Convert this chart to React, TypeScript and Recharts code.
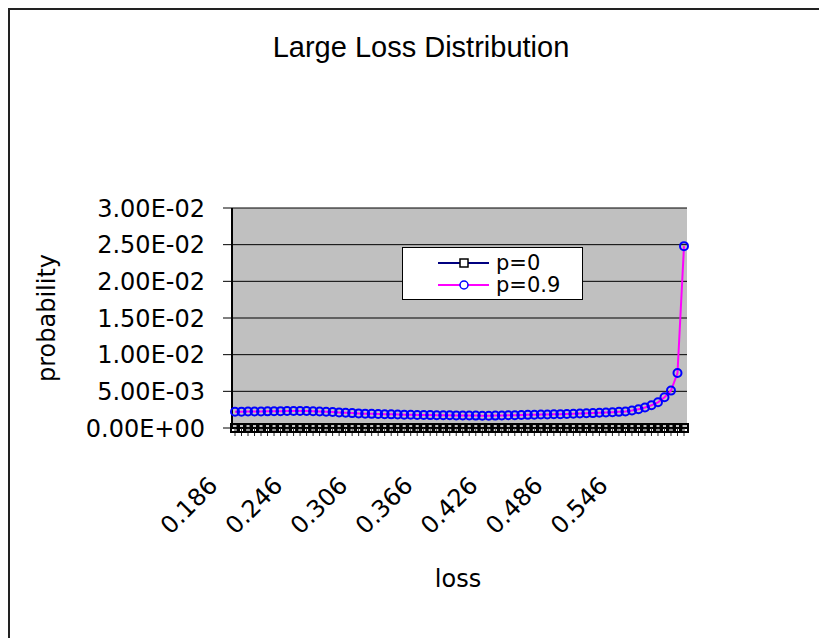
import { LineChart, Line, XAxis, YAxis, CartesianGrid, Legend } from "recharts"

// loss buckets on the category axis
const lossCategories = [
  "0.186", "0.192", "0.198", "0.204", "0.210", "0.216", "0.222", "0.228", "0.234", "0.240",
  "0.246", "0.252", "0.258", "0.264", "0.270", "0.276", "0.282", "0.288", "0.294", "0.300",
  "0.306", "0.312", "0.318", "0.324", "0.330", "0.336", "0.342", "0.348", "0.354", "0.360",
  "0.366", "0.372", "0.378", "0.384", "0.390", "0.396", "0.402", "0.408", "0.414", "0.420",
  "0.426", "0.432", "0.438", "0.444", "0.450", "0.456", "0.462", "0.468", "0.474", "0.480",
  "0.486", "0.492", "0.498", "0.504", "0.510", "0.516", "0.522", "0.528", "0.534", "0.540",
  "0.546", "0.552", "0.558", "0.564", "0.570", "0.576", "0.582", "0.588", "0.594", "0.600",
]

const probP0 = [
  0, 0, 0, 0, 0, 0, 0, 0, 0, 0,
  0, 0, 0, 0, 0, 0, 0, 0, 0, 0,
  0, 0, 0, 0, 0, 0, 0, 0, 0, 0,
  0, 0, 0, 0, 0, 0, 0, 0, 0, 0,
  0, 0, 0, 0, 0, 0, 0, 0, 0, 0,
  0, 0, 0, 0, 0, 0, 0, 0, 0, 0,
  0, 0, 0, 0, 0, 0, 0, 0, 0, 0,
]

const probP09 = [
  0.00222, 0.00223, 0.00224, 0.00225, 0.00226, 0.00227, 0.00229, 0.00230, 0.00231, 0.00232,
  0.00232, 0.00231, 0.00229, 0.00226, 0.00222, 0.00218, 0.00213, 0.00208, 0.00203, 0.00199,
  0.00196, 0.00193, 0.00190, 0.00188, 0.00186, 0.00184, 0.00182, 0.00180, 0.00178, 0.00177,
  0.00176, 0.00175, 0.00174, 0.00173, 0.00172, 0.00171, 0.00170, 0.00169, 0.00168, 0.00168,
  0.00169, 0.00171, 0.00173, 0.00175, 0.00177, 0.00179, 0.00181, 0.00183, 0.00185, 0.00187,
  0.00189, 0.00191, 0.00194, 0.00197, 0.00200, 0.00203, 0.00207, 0.00211, 0.00215, 0.00220,
  0.00226, 0.00238, 0.00256, 0.00280, 0.00310, 0.00350, 0.00420, 0.00510, 0.00750, 0.02480,
]

const yTicks = [0, 0.005, 0.01, 0.015, 0.02, 0.025, 0.03]

const P0_LINE = "#000080"
const P09_LINE = "#FF00FF"
const P09_MARKER = "#0000FF"

const data = lossCategories.map((loss, i) => ({ loss, p0: probP0[i], p09: probP09[i] }))

const FONT = "'DejaVu Sans', Verdana, sans-serif"

// Excel style scientific labels: 3.00E-02
const sci = (v: number) => {
  if (v === 0) return "0.00E+00"
  const e = Math.floor(Math.log10(Math.abs(v)) + 1e-9)
  const m = v / Math.pow(10, e)
  const sign = e < 0 ? "-" : "+"
  return `${m.toFixed(2)}E${sign}${String(Math.abs(e)).padStart(2, "0")}`
}

// only every tenth bucket gets a rotated label
const LossTick = (props: any) => {
  const { x, y, payload } = props
  if (payload.index % 10 !== 0) return null
  const tx = x - 16
  const ty = y + 49
  return (
    <text x={tx} y={ty} transform={`rotate(-45 ${tx} ${ty})`} textAnchor="end"
      fontSize={24} fontFamily={FONT} fill="#000">
      {payload.value}
    </text>
  )
}

const SquareDot = (props: any) => {
  const { cx, cy, index } = props
  if (cx == null || cy == null) return <g key={`sq-${index}`} />
  return (
    <rect key={`sq-${index}`} x={cx - 4} y={cy - 4} width={8} height={8}
      fill="none" stroke="#000" strokeWidth={2} />
  )
}

const LegendBox = () => (
  <div style={{
    width: 181, height: 53, boxSizing: "border-box", background: "#fff",
    border: "1px solid #000", fontFamily: FONT, fontSize: 21, padding: "4px 0 0 35px",
  }}>
    {[
      { name: "p=0", line: P0_LINE, square: true },
      { name: "p=0.9", line: P09_LINE, square: false },
    ].map((s) => (
      <div key={s.name} style={{ display: "flex", alignItems: "center", height: 22 }}>
        <svg width={52} height={14} style={{ marginRight: 6 }}>
          <line x1={0} y1={7} x2={51} y2={7} stroke={s.line} strokeWidth={2} />
          {s.square
            ? <rect x={22} y={3} width={8} height={8} fill="#fff" stroke="#000" strokeWidth={1.5} />
            : <circle cx={26} cy={7} r={4} fill="#fff" stroke={P09_MARKER} strokeWidth={1.5} />}
        </svg>
        <span style={{ lineHeight: 1 }}>{s.name}</span>
      </div>
    ))}
  </div>
)

export default function App() {
  return (
    <div style={{ position: "relative", width: 819, height: 630, overflow: "hidden" }}>
      <style>{"html, body { overflow: hidden; }"}</style>
      <LineChart
        width={780}
        height={630}
        data={data}
        margin={{ top: 200, right: 101, left: 20, bottom: 110 }}
        accessibilityLayer={false}
        style={{ outline: "none" }}
      >
        <CartesianGrid fill="#C0C0C0" vertical={false} stroke="#000" strokeOpacity={1} />
        <XAxis
          dataKey="loss"
          interval={0}
          height={100}
          padding={{ left: 3, right: 3 }}
          tick={<LossTick />}
          tickSize={8}
          tickMargin={2}
          tickLine={{ stroke: "#222" }}
          axisLine={{ stroke: "#000", strokeWidth: 2 }}
        />
        {/* plot frame: grey top and right edges */}
        <XAxis xAxisId="frame" orientation="top" height={0} tick={false} tickLine={false}
          axisLine={{ stroke: "#808080", strokeWidth: 2 }} />
        <YAxis yAxisId="frame" orientation="right" width={0} tick={false} tickLine={false}
          axisLine={{ stroke: "#808080", strokeWidth: 2 }} />
        <YAxis
          width={204}
          domain={[0, 0.03]}
          ticks={yTicks}
          tickFormatter={sci}
          tickSize={9}
          tickMargin={18}
          tickLine={{ stroke: "#000" }}
          axisLine={{ stroke: "#000", strokeWidth: 2 }}
          tick={{ fill: "#000", fontSize: 24, fontFamily: FONT }}
        />
        <Legend
          layout="vertical"
          align="center"
          verticalAlign="middle"
          wrapperStyle={{ left: 394, top: 239, width: 181 }}
          content={() => <LegendBox />}
        />
        <Line
          dataKey="p0"
          name="p=0"
          stroke={P0_LINE}
          strokeWidth={2}
          dot={SquareDot}
          activeDot={false}
          isAnimationActive={false}
        />
        <Line
          dataKey="p09"
          name="p=0.9"
          stroke={P09_LINE}
          strokeWidth={2}
          dot={{ r: 4, fill: "none", stroke: P09_MARKER, strokeWidth: 2 }}
          activeDot={false}
          isAnimationActive={false}
        />
      </LineChart>
      <svg width={780} height={630} style={{ position: "absolute", left: 0, top: 0, pointerEvents: "none" }}>
        <text x={413} y={49} textAnchor="middle" fontSize={29} fontFamily="'Liberation Sans', Arial, sans-serif">
          Large Loss Distribution
        </text>
        <text x={47} y={310} transform="rotate(-90 47 310)" textAnchor="middle" fontSize={24} fontFamily={FONT}>
          probability
        </text>
        <text x={450} y={579} textAnchor="middle" fontSize={24} fontFamily={FONT}>
          loss
        </text>
      </svg>
      <div style={{
        position: "absolute", left: 0, top: 0, width: 840, height: 660,
        borderLeft: "2px solid #222", borderTop: "2px solid #222", pointerEvents: "none",
      }} />
    </div>
  )
}
